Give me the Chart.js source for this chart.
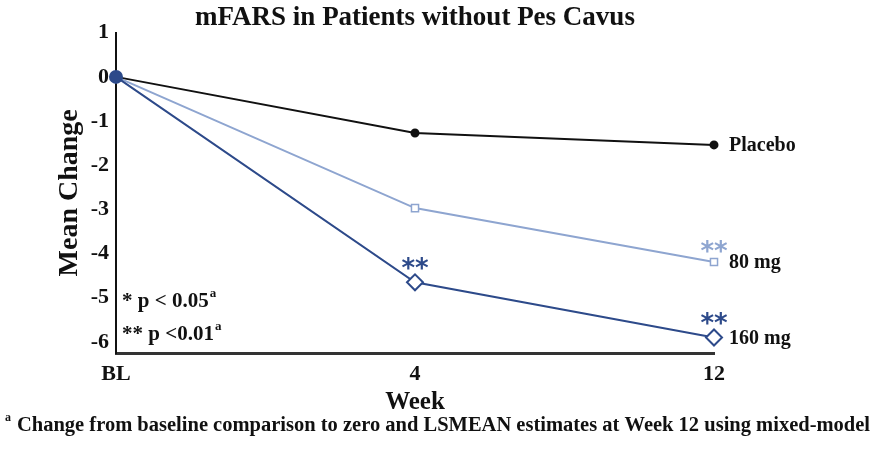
<!DOCTYPE html>
<html>
<head>
<meta charset="utf-8">
<script src="https://cdn.jsdelivr.net/npm/chart.js@4.4.1/dist/chart.umd.min.js"></script>
<style>
  html, body { margin: 0; padding: 0; background: #fff; }
  #wrap { width: 875px; height: 450px; }
</style>
</head>
<body>
<div id="wrap"><canvas id="mfarsChart" width="875" height="450"></canvas></div>
<script>
// datos
var semanas = ['BL', '4', '12'];
var placebo = [0, -1.27, -1.54];
var dosis80 = [0, -2.97, -4.19];
var dosis160 = [0, -4.65, -5.90];
var etiquetasSerie = ['Placebo', '80 mg', '160 mg'];
var ticksY = [1, 0, -1, -2, -3, -4, -5, -6];
// asteriscos de significancia (indice de semana)
var signif80 = [2];
var signif160 = [1, 2];

var negro = '#111111';
var azulClaro = '#8ea5d0';
var azulOscuro = '#2d4a8a';
var fuente = "'Liberation Serif', 'Times New Roman', serif";

// texto extra: etiquetas a la derecha, asteriscos, leyenda de p y nota al pie
var textosExtra = {
    id: 'textosExtra',
    afterDraw: function(chart) {
        var ctx = chart.ctx;
        var x = chart.scales.x, y = chart.scales.y;
        var ultimo = semanas.length - 1;
        ctx.save();
        ctx.textBaseline = 'middle';
        ctx.textAlign = 'left';
        ctx.fillStyle = '#111';
        ctx.font = 'bold 20px ' + fuente;
        var series = [placebo, dosis80, dosis160];
        for (var i = 0; i < series.length; i++) {
            ctx.fillText(etiquetasSerie[i], x.getPixelForValue(ultimo) + 15, y.getPixelForValue(series[i][ultimo]) + 1);
        }

        // asteriscos
        ctx.textAlign = 'center';
        ctx.font = 'bold 26px "DejaVu Sans", sans-serif';
        ctx.fillStyle = azulClaro;
        signif80.forEach(function(k) {
            ctx.fillText('**', x.getPixelForValue(k), y.getPixelForValue(dosis80[k]) - 9);
        });
        ctx.fillStyle = azulOscuro;
        signif160.forEach(function(k) {
            ctx.fillText('**', x.getPixelForValue(k), y.getPixelForValue(dosis160[k]) - 12);
        });

        // leyenda de p
        ctx.textAlign = 'left';
        ctx.fillStyle = '#111';
        var lineasP = [['* p < 0.05', 302], ['** p <0.01', 335]];
        lineasP.forEach(function(l) {
            ctx.font = 'bold 21px ' + fuente;
            ctx.fillText(l[0], 122, l[1]);
            var w = ctx.measureText(l[0]).width;
            ctx.font = 'bold 13px ' + fuente;
            ctx.fillText('a', 122 + w + 1, l[1] - 8);
        });

        // nota al pie
        ctx.font = 'bold 12px ' + fuente;
        ctx.fillText('a', 5, 418);
        var nota = 'Change from baseline comparison to zero and LSMEAN estimates at Week 12 using mixed-model';
        ctx.font = 'bold 20px ' + fuente;
        var ancho = ctx.measureText(nota).width;
        var objetivo = 853;
        ctx.translate(17, 426);
        ctx.scale(objetivo / ancho, 1);
        ctx.fillText(nota, 0, 0);
        ctx.restore();
    }
};

var datos = {
    labels: semanas,
    datasets: [
        {
            label: etiquetasSerie[0],
            data: placebo,
            borderColor: negro,
            backgroundColor: negro,
            borderWidth: 2,
            pointRadius: 3.5,
            pointStyle: 'circle',
            order: 3
        }, {
            label: etiquetasSerie[1],
            data: dosis80,
            borderColor: azulClaro,
            backgroundColor: '#ffffff',
            borderWidth: 2,
            pointRadius: 5,
            pointBorderWidth: 1.5,
            pointStyle: 'rect',
            order: 2
        }, {
            label: etiquetasSerie[2],
            data: dosis160,
            borderColor: azulOscuro,
            backgroundColor: [azulOscuro, '#ffffff', '#ffffff'],
            borderWidth: 2,
            pointRadius: [6, 8, 8],
            pointBorderWidth: 2,
            pointStyle: ['circle', 'rectRot', 'rectRot'],
            order: 1
        }
    ]
};

var opciones = {
    responsive: false,
    animation: false,
    layout: { padding: { left: 50, right: 161, top: 0, bottom: 32 } },
    plugins: {
        legend: { display: false },
        tooltip: { enabled: false },
        title: {
            display: true,
            text: 'mFARS in Patients without Pes Cavus',
            fullSize: false,
            color: '#111',
            font: { family: fuente, size: 27, weight: 'bold', lineHeight: 1.1 },
            padding: { top: 3, bottom: 0 }
        }
    },
    scales: {
        x: {
            type: 'category',
            offset: false,
            grid: { display: false, drawTicks: false },
            border: { display: true, color: '#333', width: 3 },
            ticks: {
                color: '#111',
                padding: 8,
                font: { family: fuente, size: 22, weight: 'bold' }
            },
            title: {
                display: true,
                text: 'Week',
                color: '#111',
                padding: 0,
                font: { family: fuente, size: 25, weight: 'bold', lineHeight: 1.2 }
            },
            afterFit: function(scale) { scale.height = 65; }
        },
        y: {
            min: -6.25,
            max: 1,
            grid: { display: false, drawTicks: false },
            border: { display: true, color: '#111', width: 2 },
            ticks: {
                color: '#111',
                padding: 7,
                font: { family: fuente, size: 22, weight: 'bold' }
            },
            afterBuildTicks: function(scale) {
                scale.ticks = ticksY.map(function(v) { return { value: v }; });
            },
            title: {
                display: true,
                text: 'Mean Change',
                color: '#111',
                padding: { top: 3, bottom: 0 },
                font: { family: fuente, size: 28, weight: 'bold', lineHeight: 1.2 }
            },
            afterFit: function(scale) { scale.width = 66; }
        }
    }
};

var ctx = document.getElementById('mfarsChart').getContext('2d');
new Chart(ctx, { type: 'line', data: datos, options: opciones, plugins: [textosExtra] });
</script>
</body>
</html>
